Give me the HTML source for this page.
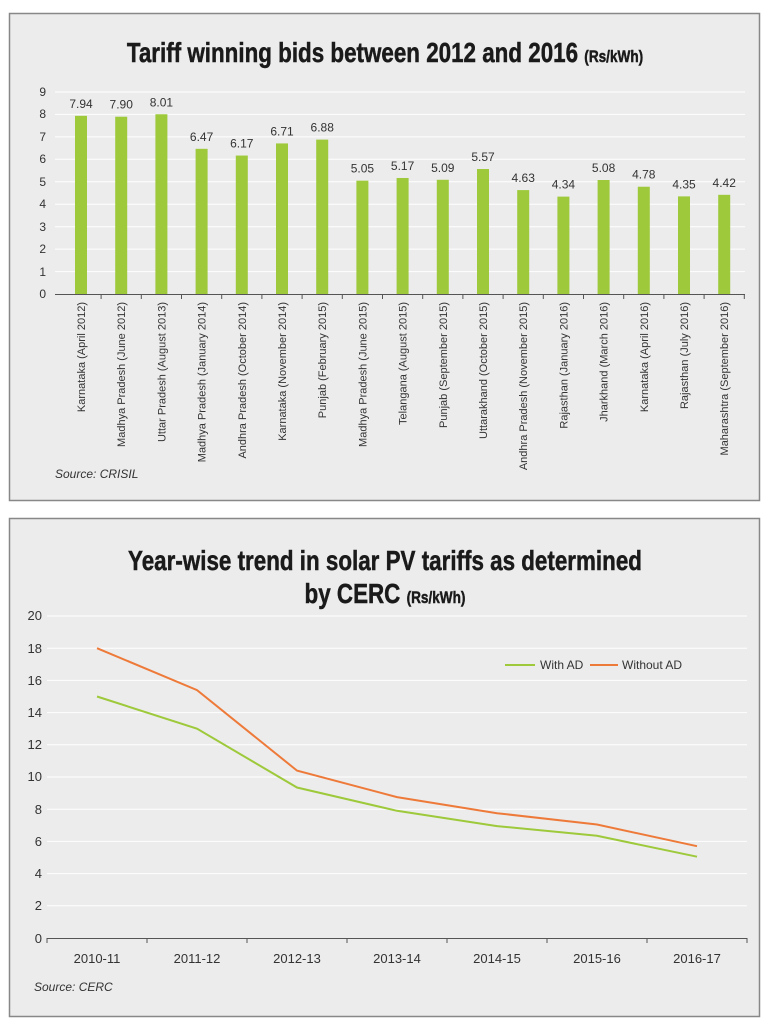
<!DOCTYPE html>
<html><head><style>
body{margin:0;background:#fff;width:769px;height:1024px;overflow:hidden;font-family:"Liberation Sans",sans-serif}
</style></head><body>
<svg width="769" height="1024" xmlns="http://www.w3.org/2000/svg" font-family="Liberation Sans, sans-serif">
<rect x="9.5" y="13.5" width="750" height="487" fill="#ececec" stroke="#888" stroke-width="1.5"/>
<rect x="9.5" y="518.5" width="750" height="498" fill="#ececec" stroke="#888" stroke-width="1.5"/>
<text x="385" y="62" text-anchor="middle" font-weight="bold" font-size="28" fill="#1a1a1a" stroke="#1a1a1a" stroke-width="0.5" transform="translate(385 0) scale(0.8 1) translate(-385 0)">Tariff winning bids between 2012 and 2016 <tspan font-size="17">(Rs/kWh)</tspan></text>
<g stroke="#fff" stroke-width="1">
<line x1="55" x2="745" y1="271.6" y2="271.6"/><line x1="55" x2="745" y1="249.1" y2="249.1"/><line x1="55" x2="745" y1="226.7" y2="226.7"/><line x1="55" x2="745" y1="204.2" y2="204.2"/><line x1="55" x2="745" y1="181.8" y2="181.8"/><line x1="55" x2="745" y1="159.3" y2="159.3"/><line x1="55" x2="745" y1="136.9" y2="136.9"/><line x1="55" x2="745" y1="114.4" y2="114.4"/><line x1="55" x2="745" y1="92" y2="92"/>
</g>
<g font-size="12" fill="#333" text-anchor="end">
<text x="46" y="298">0</text><text x="46" y="276">1</text><text x="46" y="253">2</text><text x="46" y="231">3</text><text x="46" y="208">4</text><text x="46" y="186">5</text><text x="46" y="163">6</text><text x="46" y="141">7</text><text x="46" y="118">8</text><text x="46" y="96">9</text>
</g>
<line x1="55" x2="745" y1="294.5" y2="294.5" stroke="#555"/>
<g id="bars" fill="#9dc93b"></g>
<g id="blabels" font-size="12" fill="#333" text-anchor="middle"></g>
<g id="cats" font-size="11" fill="#333"></g>
<text x="55" y="478" font-size="12" font-style="italic" fill="#333">Source: CRISIL</text>

<text x="385" y="570" text-anchor="middle" font-weight="bold" font-size="28" fill="#1a1a1a" stroke="#1a1a1a" stroke-width="0.5" transform="translate(385 0) scale(0.8 1) translate(-385 0)">Year-wise trend in solar PV tariffs as determined</text>
<text x="385" y="603" text-anchor="middle" font-weight="bold" font-size="28" fill="#1a1a1a" stroke="#1a1a1a" stroke-width="0.5" transform="translate(385 0) scale(0.8 1) translate(-385 0)">by CERC <tspan font-size="17">(Rs/kWh)</tspan></text>
<g stroke="#fff" stroke-width="1">
<line x1="47" x2="747" y1="905.8" y2="905.8"/><line x1="47" x2="747" y1="873.6" y2="873.6"/><line x1="47" x2="747" y1="841.4" y2="841.4"/><line x1="47" x2="747" y1="809.2" y2="809.2"/><line x1="47" x2="747" y1="777" y2="777"/><line x1="47" x2="747" y1="744.8" y2="744.8"/><line x1="47" x2="747" y1="712.6" y2="712.6"/><line x1="47" x2="747" y1="680.4" y2="680.4"/><line x1="47" x2="747" y1="648.2" y2="648.2"/><line x1="47" x2="747" y1="616" y2="616"/>
</g>
<g font-size="13" fill="#333" text-anchor="end">
<text x="42" y="943">0</text><text x="42" y="910">2</text><text x="42" y="878">4</text><text x="42" y="846">6</text><text x="42" y="814">8</text><text x="42" y="781">10</text><text x="42" y="749">12</text><text x="42" y="717">14</text><text x="42" y="685">16</text><text x="42" y="653">18</text><text x="42" y="620">20</text>
</g>
<line x1="47" x2="747" y1="938.5" y2="938.5" stroke="#555"/>
<g stroke="#555"><line x1="47" x2="47" y1="938" y2="943"/><line x1="147" x2="147" y1="938" y2="943"/><line x1="247" x2="247" y1="938" y2="943"/><line x1="347" x2="347" y1="938" y2="943"/><line x1="447" x2="447" y1="938" y2="943"/><line x1="547" x2="547" y1="938" y2="943"/><line x1="647" x2="647" y1="938" y2="943"/><line x1="747" x2="747" y1="938" y2="943"/></g>
<g font-size="13" fill="#333" text-anchor="middle">
<text x="97" y="963">2010-11</text><text x="197" y="963">2011-12</text><text x="297" y="963">2012-13</text><text x="397" y="963">2013-14</text><text x="497" y="963">2014-15</text><text x="597" y="963">2015-16</text><text x="697" y="963">2016-17</text>
</g>
<polyline fill="none" stroke="#9dc93b" stroke-width="2" points="97,696.5 197,728.7 297,787.5 397,810.8 497,826.1 597,835.8 697,856.7"/>
<polyline fill="none" stroke="#ee7a3a" stroke-width="2" points="97,648.2 197,690.1 297,770.6 397,797.1 497,813.2 597,824.5 697,846.2"/>
<line x1="505" x2="535" y1="665" y2="665" stroke="#9dc93b" stroke-width="2"/>
<text x="540" y="669" font-size="12" fill="#333">With AD</text>
<line x1="590" x2="618" y1="665" y2="665" stroke="#ee7a3a" stroke-width="2"/>
<text x="622" y="669" font-size="12" fill="#333">Without AD</text>
<text x="34" y="991" font-size="12" font-style="italic" fill="#333">Source: CERC</text>
</svg>
<script>
var v=[7.94,7.90,8.01,6.47,6.17,6.71,6.88,5.05,5.17,5.09,5.57,4.63,4.34,5.08,4.78,4.35,4.42];
var c=["Karnataka (April 2012)","Madhya Pradesh (June 2012)","Uttar Pradesh (August 2013)","Madhya Pradesh (January 2014)","Andhra Pradesh (October 2014)","Karnataka (November 2014)","Punjab (February 2015)","Madhya Pradesh (June 2015)","Telangana (August 2015)","Punjab (September 2015)","Uttarakhand (October 2015)","Andhra Pradesh (November 2015)","Rajasthan (January 2016)","Jharkhand (March 2016)","Karnataka (April 2016)","Rajasthan (July 2016)","Maharashtra (September 2016)"];
var ns="http://www.w3.org/2000/svg",b=document.getElementById("bars"),l=document.getElementById("blabels"),k=document.getElementById("cats"),s=document.querySelector("svg");
for(var i=0;i<17;i++){var x=81+i*40.2,h=v[i]*22.44;
var r=document.createElementNS(ns,"rect");r.setAttribute("x",x-6);r.setAttribute("y",294-h);r.setAttribute("width",12);r.setAttribute("height",h);b.appendChild(r);
var t=document.createElementNS(ns,"text");t.setAttribute("x",x);t.setAttribute("y",294-h-8);t.textContent=v[i].toFixed(2);l.appendChild(t);
var q=document.createElementNS(ns,"text");q.setAttribute("transform","translate("+(x+4)+" 302) rotate(-90)");q.setAttribute("text-anchor","end");q.textContent=c[i];k.appendChild(q);
var tk=document.createElementNS(ns,"line");var tx=x+20.1;tk.setAttribute("x1",tx);tk.setAttribute("x2",tx);tk.setAttribute("y1",294);tk.setAttribute("y2",299);tk.setAttribute("stroke","#555");s.appendChild(tk);}
</script>
</body></html>
